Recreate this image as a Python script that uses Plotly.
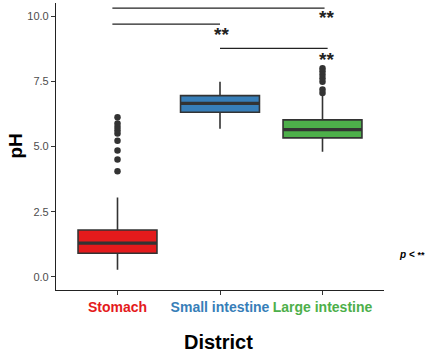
import plotly.graph_objects as go

categories = ["Stomach", "Small intestine", "Large intestine"]
colors = ["#E41A1C", "#377EB8", "#4DAF4A"]
q1 = [0.91, 6.31, 5.33]
median = [1.30, 6.65, 5.65]
q3 = [1.80, 6.95, 6.02]
lowerfence = [0.28, 5.68, 4.80]
upperfence = [3.05, 7.48, 7.00]
outliers = [
    [4.05, 4.50, 4.85, 5.22, 5.50, 5.62, 5.75, 5.88, 6.12],
    [],
    [7.05, 7.18, 7.48, 7.62, 7.75, 7.88, 8.00],
]
# significance brackets: (start index, end index, height, label)
comparisons = [
    (-0.05, 2.02, 10.30, "**"),
    (-0.05, 1.00, 9.69, "**"),
    (1.00, 2.05, 8.76, "**"),
]
star_pos = [(2.04, 10.0), (1.01, 9.35), (2.04, 8.39)]
box_width = 0.77

fig = go.Figure()
for i, cat in enumerate(categories):
    fig.add_trace(go.Box(
        x=[cat], q1=[q1[i]], median=[median[i]], q3=[q3[i]],
        lowerfence=[lowerfence[i]], upperfence=[upperfence[i]],
        fillcolor=colors[i], line=dict(color="#333333", width=1.6),
        width=box_width, whiskerwidth=0, boxpoints=False,
        showlegend=False, hoverinfo="skip",
    ))
    fig.add_shape(type="line", xref="x", yref="y",
                  x0=i - box_width / 2, x1=i + box_width / 2,
                  y0=median[i], y1=median[i],
                  line=dict(color="#333333", width=3.2))
    if outliers[i]:
        fig.add_trace(go.Scatter(
            x=[cat] * len(outliers[i]), y=outliers[i], mode="markers",
            marker=dict(color="#333333", size=6.5), showlegend=False,
        ))

for (a, b, h, lab), (sx, sy) in zip(comparisons, star_pos):
    fig.add_shape(type="line", xref="x", yref="y", x0=a, x1=b, y0=h, y1=h,
                  line=dict(color="#222222", width=1.3))
    fig.add_annotation(x=sx, y=sy, xref="x", yref="y", text="<b>" + lab + "</b>",
                       showarrow=False, yshift=-1,
                       font=dict(size=19, color="#222222"))

ticktext = [f"<span style='color:{c}'><b>{t}</b></span>" for t, c in zip(categories, colors)]

fig.update_layout(
    width=432, height=352,
    margin=dict(l=56, r=48, t=3, b=62, autoexpand=False),
    paper_bgcolor="white", plot_bgcolor="white",
    font=dict(family="Liberation Sans, Arial, sans-serif"),
    xaxis=dict(type="category", categoryorder="array", categoryarray=categories,
               range=[-0.6, 2.6], tickvals=categories, ticktext=ticktext,
               tickangle=0, automargin=False,
               showline=True, linecolor="#222222", linewidth=1.2,
               ticks="outside", ticklen=4, tickcolor="#333333",
               tickfont=dict(size=14), showgrid=False, zeroline=False),
    yaxis=dict(range=[-0.5, 10.5], tickvals=[0, 2.5, 5, 7.5, 10],
               tickformat=".1f", showline=True, linecolor="#222222", linewidth=1.2,
               ticks="outside", ticklen=4, tickcolor="#333333",
               tickfont=dict(size=11, color="#4d4d4d"),
               showgrid=False, zeroline=False),
    annotations=list(fig.layout.annotations) + [
        dict(x=-0.125, y=0.5, xref="paper", yref="paper", text="<b>pH</b>",
             textangle=-90, showarrow=False, xanchor="center", yanchor="middle",
             font=dict(size=19, color="black")),
        dict(x=0.494, y=-0.181, xref="paper", yref="paper", text="<b>District</b>",
             showarrow=False, xanchor="center", yanchor="middle",
             font=dict(size=20, color="black")),
        dict(x=1.085, y=0.122, xref="paper", yref="paper",
             text="<b><i>p</i> <</b> <span style='font-size:9px'><b>**</b></span>",
             showarrow=False, xanchor="center", yanchor="middle",
             font=dict(size=10, color="black")),
    ],
)

fig.write_html("out.html", config={"displayModeBar": False},
               post_script="document.body.style.margin='0';")
